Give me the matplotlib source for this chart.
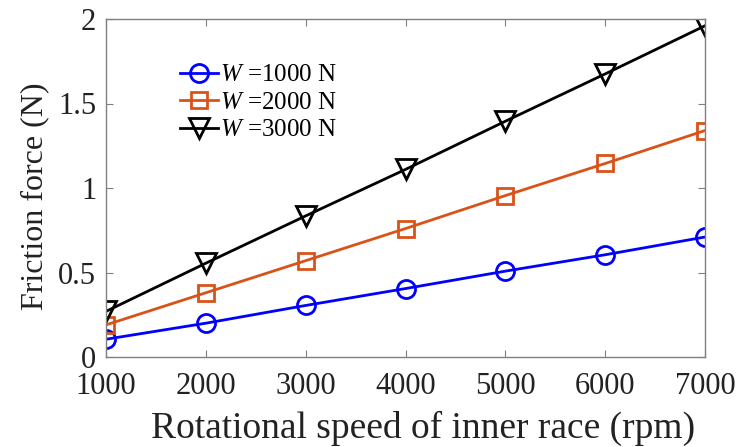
import matplotlib
matplotlib.use("Agg")
import matplotlib.pyplot as plt

plt.rcParams['font.family'] = ['Liberation Serif']
plt.rcParams['mathtext.fontset'] = 'custom'
plt.rcParams['mathtext.rm'] = 'Liberation Serif'
plt.rcParams['mathtext.it'] = 'Liberation Serif:italic'

speed = [1000, 2000, 3000, 4000, 5000, 6000, 7000]
w1000 = [0.105, 0.20, 0.305, 0.405, 0.508, 0.605, 0.71]
w2000 = [0.19, 0.38, 0.57, 0.76, 0.955, 1.145, 1.34]
w3000 = [0.27, 0.555, 0.835, 1.11, 1.395, 1.675, 1.96]
labels = ['$W$ =1000 N', '$W$ =2000 N', '$W$ =3000 N']

fig = plt.figure(figsize=(7.38, 4.47), dpi=100)
ax = fig.add_axes([106/738, 1 - 357/447, (705-106)/738, (357-19)/447])

ax.plot(speed, w1000, '-o', color=(0, 0, 1), lw=2, ms=13, mew=2, mfc='none', label=labels[0])
ax.plot(speed, w2000, '-s', color=(0.85, 0.325, 0.098), lw=2, ms=11, mew=2, mfc='none', label=labels[1])
ax.plot(speed, w3000, '-v', color='black', lw=2, ms=14, mew=2, mfc='none', label=labels[2])

ax.set_xlim(1000, 7000)
ax.set_ylim(0, 2)
ax.set_xticks(speed)
ax.set_yticks([0, 0.5, 1, 1.5, 2])
ax.set_yticklabels(['0', '0.5', '1', '1.5', '2'])
ax.tick_params(direction='in', labelsize=22, color='#808080', length=5, top=True, right=True,
               labeltop=False, labelright=False, labelcolor='#222222')
ax.tick_params(axis='x', pad=11)
ax.tick_params(axis='y', pad=7)
for s in ax.spines.values():
    s.set_color('#808080')
    s.set_linewidth(1)
ax.set_xlabel('Rotational speed of inner race (rpm)', fontsize=27, color='#222222')
ax.set_ylabel('Friction force (N)', fontsize=23, color='#222222')
ax.xaxis.set_label_coords(0.53, -0.158)
ax.yaxis.set_label_coords(-0.095, 0.476)

ax.legend(loc='upper left', bbox_to_anchor=(0.124, 0.867), frameon=False, fontsize=18,
          handlelength=1.5, handletextpad=0.1, labelspacing=0.2, borderaxespad=0, borderpad=0)

fig.savefig('out.png', dpi=100)
